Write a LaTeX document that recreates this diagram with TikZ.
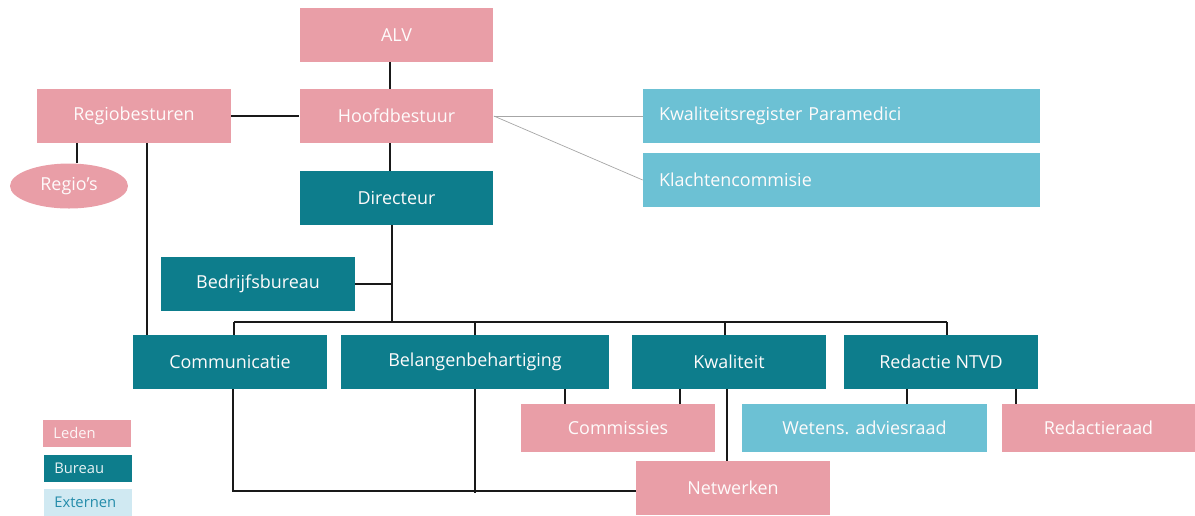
\documentclass[tikz,border=0pt]{standalone}
\usepackage{fontspec}
\setmainfont{Open Sans}
\usepackage{tikz}
\usetikzlibrary{shapes.geometric, positioning, calc}
\definecolor{leden}{RGB}{233, 158, 167}
\definecolor{bureau}{RGB}{13, 125, 140}
\definecolor{extern}{RGB}{108, 193, 212}
\definecolor{externlite}{RGB}{208, 233, 242}
\definecolor{externtxt}{RGB}{36, 140, 170}

\begin{document}
\begin{tikzpicture}[x=0.02cm, y=-0.02cm,
  box/.style={rectangle, inner sep=0pt,
    font=\fontsize{10.2pt}{12pt}\selectfont, text=white!96!leden,
    minimum width=3.88cm, minimum height=1.08cm},
  lid/.style={box, fill=leden},
  bur/.style={box, fill=bureau},
  ext/.style={box, fill=extern},
  low/.style={minimum height=0.96cm},
  wide/.style={minimum width=7.94cm, text width=7.3cm, align=left},
  leg/.style={rectangle, inner ysep=0pt, inner xsep=0.2cm, anchor=west,
    font=\fontsize{8.4pt}{10pt}\selectfont,
    minimum width=1.76cm, minimum height=0.54cm,
    text width=1.36cm, align=left},
  ln/.style={line width=0.75pt, black!90},
  gl/.style={line width=0.4pt, black!35}
]
\useasboundingbox (0,0) rectangle (1195,515);
% Bestuur
\node[lid] at (396.5, 35) (alv) {ALV};
\node[lid] at (396.5,116) (hb) {Hoofdbestuur};
\node[lid] at (134,116) (reg) {Regiobesturen};
\node[ellipse, fill=leden, text=white!96!leden, inner sep=0pt,
  minimum width=2.36cm, minimum height=0.9cm,
  font=\fontsize{10.2pt}{12pt}\selectfont]
  at (69,186) (rgs) {Regio's};
\node[bur] at (396.5,198) (dir) {Directeur};
% Externen rechts
\node[ext, wide] at (841.5,116) (kr) {Kwaliteitsregister Paramedici};
\node[ext, wide] at (841.5,180) (kc) {Klachtencommisie};
% Bureau
\node[bur] at (258,284) (bb) {Bedrijfsbureau};
\node[bur] at (230,362) (com) {Communicatie};
\node[bur, minimum width=5.36cm] at (475,362) (bel) {Belangenbehartiging};
\node[bur] at (729,362) (kw) {Kwaliteit};
\node[bur] at (941,362) (ntvd) {Redactie NTVD};
% Onderste rij
\node[lid, low] at (618,428) (cms) {Commissies};
\node[ext, low, minimum width=4.9cm] at (864.5,428) (wad) {Wetens. adviesraad};
\node[lid, low] at (1098.5,428) (rr) {Redactieraad};
\node[lid] at (733,488) (net) {Netwerken};
% Legenda
\node[leg, fill=leden, text=white!90!leden] at (43,433) (lgl) {Leden};
\node[leg, fill=bureau, text=white!90!bureau] at (44,468) (lgb) {Bureau};
\node[leg, fill=externlite, text=externtxt] at (44,502) (lge) {Externen};
% Lijnen bovenin
\coordinate (spine) at (390,0);
\coordinate (axis) at (392,0);
\coordinate (busL) at (234,322);
\coordinate (busR) at (947,322);
\coordinate (wadT) at (907,404);
\coordinate (netL) at ([yshift=-0.06cm]net.west);
\coordinate (netB) at ([yshift=-0.1cm]net.west);
\draw[ln] (alv.south -| spine) -- (hb.north -| spine);
\draw[ln] (hb.south -| spine) -- (dir.north -| spine);
\draw[ln] (reg.east) -- (hb.west);
\draw[ln] ([xshift=-1.14cm]reg.south) -- ([xshift=-1.14cm]reg.south |- rgs.north);
\draw[ln] ([xshift=0.26cm]reg.south) -- ([xshift=0.26cm]reg.south |- com.north);
\draw[gl] (hb.east) -- (kr.west);
\draw[gl] (hb.east) -- (kc.west);
% Directeur naar afdelingen
\draw[ln] (dir.south -| axis) -- (busL -| axis);
\draw[ln] (bb.east) -- (bb.east -| axis);
\draw[ln] (busL) -- (busR);
\draw[ln] (busL) -- (busL |- com.north);
\draw[ln] (bel.north |- busL) -- (bel.north);
\draw[ln] ([xshift=-0.08cm]kw.north |- busL) -- ([xshift=-0.08cm]kw.north);
\draw[ln] (busR) -- (busR |- ntvd.north);
% Onderste lijnen
\draw[ln] ([xshift=-1.06cm]cms.north) -- ([xshift=-1.06cm]cms.north |- bel.south);
\draw[ln] ([xshift=1.24cm]cms.north) -- ([xshift=1.24cm]cms.north |- kw.south);
\draw[ln] ([xshift=-0.04cm]kw.south) -- ([xshift=-0.04cm]kw.south |- net.north);
\draw[ln] (wadT) -- (wadT |- ntvd.south);
\draw[ln] ([xshift=-1.65cm]rr.north) -- ([xshift=-1.65cm]rr.north |- ntvd.south);
\draw[ln] ([xshift=0.06cm]com.south) |- (netL);
\draw[ln] (bel.south) -- (bel.south |- netB);
\end{tikzpicture}
\end{document}
